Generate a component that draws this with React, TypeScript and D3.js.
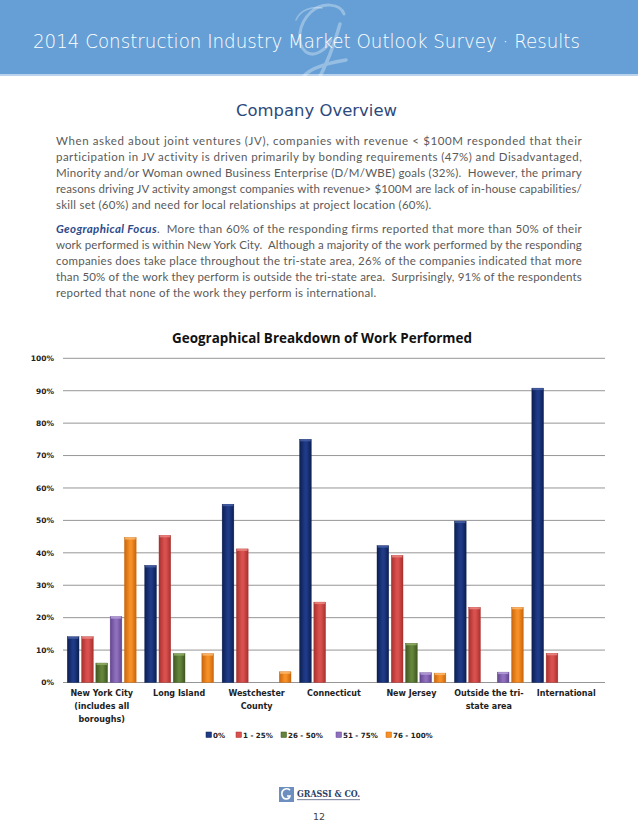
import React from "react";
import * as d3 from "d3";

const categories = [
  ["New York City", "(includes all", "boroughs)"],
  ["Long Island"],
  ["Westchester", "County"],
  ["Connecticut"],
  ["New Jersey"],
  ["Outside the tri-", "state area"],
  ["International"],
];
const seriesNames = ["0%", "1 - 25%", "26 - 50%", "51 - 75%", "76 - 100%"];
const s0 = [14.1, 36.1, 55.0, 75.0, 42.2, 49.8, 90.8];
const s1 = [14.1, 45.4, 41.2, 24.8, 39.2, 23.2, 9.0];
const s2 = [6.0, 8.9, 0, 0, 12.1, 0, 0];
const s3 = [20.3, 0, 0, 0, 3.0, 3.2, 0];
const s4 = [44.7, 8.9, 3.3, 0, 2.9, 23.2, 0];
const seriesValues = [s0, s1, s2, s3, s4];
const yTicks = [0, 10, 20, 30, 40, 50, 60, 70, 80, 90, 100];

const colors = [
  { edge: "#0c1f52", mid: "#1f3a86", top: "#4a63a8" },
  { edge: "#a8302e", mid: "#d9514e", top: "#ee8a86" },
  { edge: "#3f5720", mid: "#63843a", top: "#93b26a" },
  { edge: "#62458e", mid: "#8e6fbd", top: "#b8a0dc" },
  { edge: "#c9660c", mid: "#f68f26", top: "#fbbb73" },
];

const para1 = [
  "When asked about joint ventures (JV), companies with revenue < $100M responded that their",
  "participation in JV activity is driven primarily by bonding requirements (47%) and Disadvantaged,",
  "Minority and/or Woman owned Business Enterprise (D/M/WBE) goals (32%).  However, the primary",
  "reasons driving JV activity amongst companies with revenue> $100M are lack of in-house capabilities/",
  "skill set (60%) and need for local relationships at project location (60%).",
];
const para2Lead = "Geographical Focus";
const para2 = [
  ".  More than 60% of the responding firms reported that more than 50% of their",
  "work performed is within New York City.  Although a majority of the work performed by the responding",
  "companies does take place throughout the tri-state area, 26% of the companies indicated that more",
  "than 50% of the work they perform is outside the tri-state area.  Surprisingly, 91% of the respondents",
  "reported that none of the work they perform is international.",
];

const W = 638;
const H = 826;

export default function App() {
  const plotLeft = 63;
  const plotRight = 605;
  const y = d3.scaleLinear().domain([0, 100]).range([682.5, 358.3]);
  const x0 = d3
    .scaleBand<number>()
    .domain(d3.range(categories.length))
    .range([plotLeft, plotRight])
    .padding(0);
  const x1 = d3
    .scaleBand<number>()
    .domain(d3.range(seriesNames.length))
    .range([0, x0.bandwidth()])
    .paddingInner(0.18)
    .paddingOuter(0.3);

  const bodyFont = "'DejaVu Sans', sans-serif";
  const paraFont = "Lato, 'Open Sans', sans-serif";
  const textColor = "#5a5a5a";
  const textX = 56;
  const textW = 526;
  const p1y = [145, 161, 177, 193, 209];
  const p2y = [233, 249, 265, 281, 297];

  const legendItems = [
    { x: 206 },
    { x: 236 },
    { x: 281 },
    { x: 336 },
    { x: 386 },
  ];

  return (
    <svg
      width={W}
      height={H}
      style={{ position: "absolute", left: 0, top: 0, background: "#fff" }}
      xmlns="http://www.w3.org/2000/svg"
    >
      <defs>
        {colors.map((c, i) => (
          <linearGradient key={i} id={`g${i}`} x1="0" x2="1" y1="0" y2="0">
            <stop offset="0" stopColor={c.edge} />
            <stop offset="0.45" stopColor={c.mid} />
            <stop offset="0.6" stopColor={c.mid} />
            <stop offset="1" stopColor={c.edge} />
          </linearGradient>
        ))}
      </defs>

      {/* header */}
      <rect x={0} y={0} width={W} height={74} fill="#659fd6" />
      <rect x={0} y={74} width={W} height={2} fill="#b9d3ec" />
      <g fill="none" stroke="#ffffff" strokeOpacity={0.32} strokeLinecap="round">
        <path
          d="M 344 14 C 340 3, 322 2, 311 12 C 298 24, 296 44, 306 52 C 314 58, 326 50, 331 40"
          strokeWidth={3}
        />
        <path
          d="M 340 24 C 334 46, 326 66, 316 84 C 311 92, 300 90, 302 80 C 305 70, 322 64, 346 60"
          strokeWidth={3.5}
        />
        <path d="M 296 20 C 300 10, 312 6, 322 8" strokeWidth={1.5} />
      </g>
      <text
        x={33}
        y={48}
        fontFamily={bodyFont}
        fontWeight={200}
        fontSize={19}
        fill="#ffffff"
        textLength={547}
        lengthAdjust="spacingAndGlyphs"
      >
        2014 Construction Industry Market Outlook Survey · Results
      </text>

      {/* section title */}
      <text
        x={236}
        y={116}
        fontFamily={bodyFont}
        fontSize={15}
        fill="#2d4a7c"
        textLength={161}
        lengthAdjust="spacingAndGlyphs"
      >
        Company  Overview
      </text>

      {/* paragraph 1 */}
      {para1.map((line, i) => (
        <text
          key={`p1${i}`}
          x={textX}
          y={p1y[i]}
          fontFamily={paraFont}
          fontSize={11.5}
          letterSpacing={0.25}
          fill={textColor}
          textLength={i === para1.length - 1 ? undefined : textW}
          lengthAdjust="spacing"
          style={{ whiteSpace: "pre" }}
        >
          {line}
        </text>
      ))}

      {/* paragraph 2 */}
      {para2.map((line, i) => (
        <text
          key={`p2${i}`}
          x={textX}
          y={p2y[i]}
          fontFamily={paraFont}
          fontSize={11.5}
          letterSpacing={0.25}
          fill={textColor}
          textLength={i === para2.length - 1 ? undefined : textW}
          lengthAdjust="spacing"
          style={{ whiteSpace: "pre" }}
        >
          {i === 0 && (
            <tspan fontWeight="bold" fontStyle="italic" fill="#2d4a8a">
              {para2Lead}
            </tspan>
          )}
          {line}
        </text>
      ))}

      {/* chart title */}
      <text
        x={172}
        y={343}
        fontFamily="'Open Sans', sans-serif"
        fontWeight={700}
        fontSize={13.5}
        fill="#111"
        textLength={300}
        lengthAdjust="spacingAndGlyphs"
      >
        Geographical Breakdown of Work Performed
      </text>

      {/* grid + y labels */}
      {yTicks.map((t) => (
        <g key={t}>
          <line
            x1={plotLeft}
            x2={plotRight}
            y1={y(t)}
            y2={y(t)}
            stroke="#8a8a8a"
            strokeWidth={0.9}
          />
          <text
            x={54}
            y={y(t) + 2.8}
            textAnchor="end"
            fontFamily={bodyFont}
            fontWeight="bold"
            fontSize={7.5}
            fill="#222"
          >
            {t}%
          </text>
        </g>
      ))}

      {/* bars */}
      {categories.map((_, ci) =>
        seriesValues.map((vals, si) => {
          const v = vals[ci];
          if (!v) return null;
          const bx = (x0(ci) as number) + (x1(si) as number);
          const bw = x1.bandwidth();
          const by = y(v);
          const bh = y(0) - by;
          return (
            <g key={`${ci}-${si}`}>
              <rect
                x={bx}
                y={by}
                width={bw}
                height={bh}
                fill={`url(#g${si})`}
                stroke={colors[si].edge}
                strokeWidth={0.4}
              />
              <rect
                x={bx + 0.6}
                y={by}
                width={bw - 1.2}
                height={Math.min(2, bh)}
                fill={colors[si].top}
                opacity={0.8}
              />
            </g>
          );
        })
      )}

      {/* x labels */}
      {categories.map((lines, ci) => (
        <text
          key={`xl${ci}`}
          textAnchor="middle"
          fontFamily={bodyFont}
          fontWeight="bold"
          fontSize={8}
          fill="#222"
        >
          {lines.map((l, li) => (
            <tspan
              key={li}
              x={(x0(ci) as number) + x0.bandwidth() / 2}
              y={696 + li * 13}
            >
              {l}
            </tspan>
          ))}
        </text>
      ))}

      {/* legend */}
      {seriesNames.map((name, si) => (
        <g key={`lg${si}`}>
          <rect
            x={legendItems[si].x}
            y={732}
            width={5.5}
            height={5.5}
            fill={colors[si].mid}
            stroke={colors[si].edge}
            strokeWidth={0.5}
          />
          <text
            x={legendItems[si].x + 7}
            y={738}
            fontFamily={bodyFont}
            fontWeight="bold"
            fontSize={7.1}
            fill="#222"
          >
            {name}
          </text>
        </g>
      ))}

      {/* footer logo */}
      <g>
        <rect x={279} y={787} width={15} height={15} fill="#6d8fbf" />
        <path
          d="M 290 790 C 286 787, 281 790, 282 795 C 283 800, 289 800, 290 796 L 287 796"
          fill="none"
          stroke="#ffffff"
          strokeWidth={1.6}
        />
        <text
          x={297}
          y={797}
          fontFamily="'DejaVu Serif', serif"
          fontWeight="bold"
          fontSize={10}
          fill="#2d3e66"
          textLength={63}
          lengthAdjust="spacingAndGlyphs"
        >
          GRASSI &amp; CO.
        </text>
        <rect x={297} y={799} width={63} height={1.2} fill="#8a93a8" />
        <text
          x={319}
          y={820}
          textAnchor="middle"
          fontFamily={bodyFont}
          fontSize={9.5}
          fill="#444"
        >
          12
        </text>
      </g>
    </svg>
  );
}
